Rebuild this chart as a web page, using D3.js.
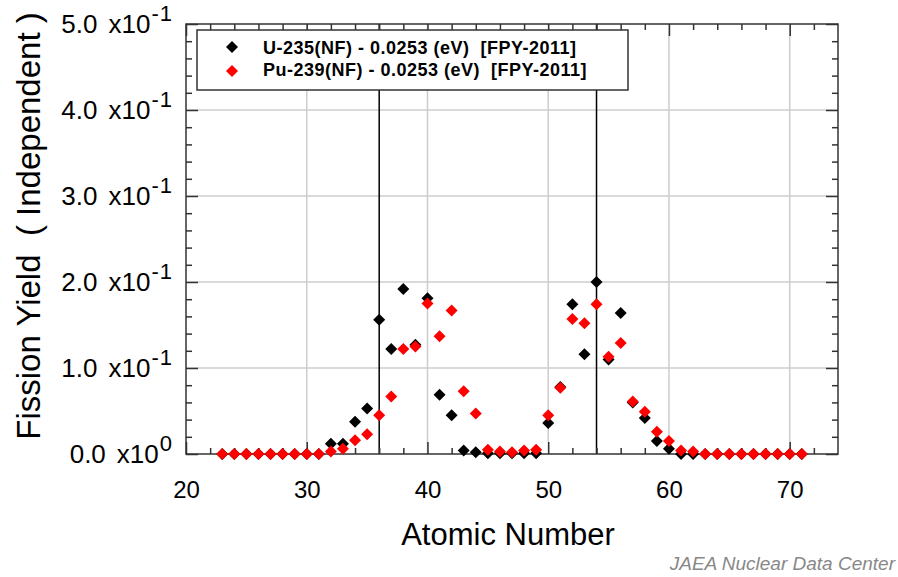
<!doctype html>
<html>
<head>
	<meta charset="utf-8">
	<title>fission yield</title>
	<script src="https://cdn.jsdelivr.net/npm/d3@7"></script>
	<style>
		body { margin: 0; background: #fff; }
		text { font-family: "Liberation Sans", Arial, sans-serif; }
		.axis path { display: none; }
		.axis line { stroke: #333; stroke-width: 1.5; }
	</style>
</head>
<body>
<script>
	// atomic number, one entry per element
	var atomic_number = d3.range(23, 72)
	// U-235 thermal, independent yield by element
	var u235 = [0, 0, 0, 0, 0, 0, 0, 0, 0,
		0.012, 0.012, 0.0375, 0.053, 0.156, 0.122, 0.192, 0.127, 0.181, 0.069, 0.045,
		0.004, 0.002, 0.001, 0.001, 0.001, 0.001, 0.001, 0.036, 0.078, 0.174, 0.116,
		0.200, 0.110, 0.164, 0.060, 0.042, 0.015, 0.006, 0, 0,
		0, 0, 0, 0, 0, 0, 0, 0, 0]
	// Pu-239 thermal, independent yield by element
	var pu239 = [0, 0, 0, 0, 0, 0, 0, 0, 0,
		0.003, 0.006, 0.016, 0.023, 0.045, 0.067, 0.122, 0.125, 0.175, 0.137, 0.167,
		0.073, 0.047, 0.005, 0.003, 0.002, 0.004, 0.005, 0.045, 0.077, 0.157, 0.152,
		0.174, 0.113, 0.129, 0.061, 0.049, 0.026, 0.015, 0.004, 0.003,
		0, 0, 0, 0, 0, 0, 0, 0, 0]
	var x_ticks = [20, 30, 40, 50, 60, 70]
	var y_ticks = [0, 0.1, 0.2, 0.3, 0.4, 0.5]
	var y_mantissa = ["0.0", "1.0", "2.0", "3.0", "4.0", "5.0"]
	var y_exponent = ["0", "-1", "-1", "-1", "-1", "-1"]
	var magic_lines = [36, 54]
	var series_names = ["U-235(NF) - 0.0253 (eV)  [FPY-2011]", "Pu-239(NF) - 0.0253 (eV)  [FPY-2011]"]
	var series_colors = ["#000000", "#ff0000"]

	var width = 898
	var height = 577
	// plot frame (window.top is reserved, so p_ prefix)
	var p_left = 186, p_right = 838, p_top = 24, p_bottom = 454

	var svg = d3.select("body")
				.append("svg")
				.attr("width", width)
				.attr("height", height)

	var x = d3.scaleLinear().domain([20, 74]).range([p_left, p_right])
	var y = d3.scaleLinear().domain([0, 0.5]).range([p_bottom, p_top])

	// grid
	svg.append("g")
		.selectAll("line")
		.data(x_ticks.slice(1))
		.enter()
		.append("line")
		.attr("x1", function(d) { return x(d) })
		.attr("x2", function(d) { return x(d) })
		.attr("y1", p_top)
		.attr("y2", p_bottom)
		.attr("stroke", "#cccccc")
		.attr("stroke-width", 1.5)
	svg.append("g")
		.selectAll("line")
		.data(y_ticks.slice(1, -1))
		.enter()
		.append("line")
		.attr("x1", p_left)
		.attr("x2", p_right)
		.attr("y1", function(d) { return y(d) })
		.attr("y2", function(d) { return y(d) })
		.attr("stroke", "#cccccc")
		.attr("stroke-width", 1.5)

	// vertical lines at Z = 36 and 54
	svg.append("g")
		.selectAll("line")
		.data(magic_lines)
		.enter()
		.append("line")
		.attr("x1", function(d) { return x(d) })
		.attr("x2", function(d) { return x(d) })
		.attr("y1", p_top)
		.attr("y2", p_bottom)
		.attr("stroke", "#000")
		.attr("stroke-width", 1.5)

	// ticks, pointing inward on all four sides
	var x_minor = d3.range(22, 74, 2).filter(function(d) { return d % 10 != 0 })
	var y_minor = d3.range(0.02, 0.5, 0.02).filter(function(d) { return Math.abs(d * 10 - Math.round(d * 10)) > 0.01 })

	svg.append("g").attr("class", "axis").attr("transform", "translate(0," + p_bottom + ")")
		.call(d3.axisBottom(x).tickValues(x_ticks).tickSize(-12).tickPadding(27).tickFormat(d3.format("d")))
	svg.append("g").attr("class", "axis").attr("transform", "translate(0," + p_bottom + ")")
		.call(d3.axisBottom(x).tickValues(x_minor).tickSize(-6).tickFormat(""))
	svg.append("g").attr("class", "axis").attr("transform", "translate(0," + p_top + ")")
		.call(d3.axisTop(x).tickValues(x_ticks).tickSize(-12).tickFormat(""))
	svg.append("g").attr("class", "axis").attr("transform", "translate(0," + p_top + ")")
		.call(d3.axisTop(x).tickValues(x_minor).tickSize(-6).tickFormat(""))
	var yaxis = svg.append("g").attr("class", "axis").attr("transform", "translate(" + p_left + ",0)")
		.call(d3.axisLeft(y).tickValues(y_ticks).tickSize(-12).tickPadding(13).tickFormat(""))
	svg.append("g").attr("class", "axis").attr("transform", "translate(" + p_left + ",0)")
		.call(d3.axisLeft(y).tickValues(y_minor).tickSize(-6).tickFormat(""))
	svg.append("g").attr("class", "axis").attr("transform", "translate(" + p_right + ",0)")
		.call(d3.axisRight(y).tickValues(y_ticks).tickSize(-12).tickFormat(""))
	svg.append("g").attr("class", "axis").attr("transform", "translate(" + p_right + ",0)")
		.call(d3.axisRight(y).tickValues(y_minor).tickSize(-6).tickFormat(""))

	svg.selectAll(".axis text")
		.attr("fill", "#000")
		.attr("font-size", 24)

	// y labels like 5.0 x10^-1
	var ylab = yaxis.selectAll(".tick text")
		.attr("font-size", 26)
		.attr("dy", "0.34em")
	ylab.each(function(d, i) {
		var t = d3.select(this)
		t.append("tspan").text(y_mantissa[i])
		t.append("tspan").attr("dx", 11).text("x10")
		t.append("tspan").attr("font-size", 22).attr("letter-spacing", 1).attr("dx", 1).attr("dy", "-0.55em").text(y_exponent[i])
	})

	// frame
	svg.append("rect")
		.attr("x", p_left)
		.attr("y", p_top)
		.attr("width", p_right - p_left)
		.attr("height", p_bottom - p_top)
		.attr("fill", "none")
		.attr("stroke", "#333")
		.attr("stroke-width", 1.5)

	// legend
	svg.append("rect")
		.attr("x", 197)
		.attr("y", 30)
		.attr("width", 431)
		.attr("height", 60)
		.attr("fill", "#fff")
		.attr("stroke", "#333")
		.attr("stroke-width", 1.5)

	var diamond = d3.symbol().type(d3.symbolSquare).size(72)

	var legend = svg.selectAll(".legend")
		.data(series_names)
		.enter()
		.append("g")
		.attr("class", "legend")
	legend.append("path")
		.attr("d", diamond)
		.attr("transform", function(d, i) { return "translate(232," + (47 + i * 24) + ") rotate(45)" })
		.attr("fill", function(d, i) { return series_colors[i] })
	legend.append("text")
		.attr("x", 263)
		.attr("y", function(d, i) { return 53.5 + i * 22 })
		.attr("font-size", 18)
		.attr("font-weight", "bold")
		.attr("letter-spacing", 0.5)
		.style("white-space", "pre")
		.text(function(d) { return d })

	// points
	var series = [u235, pu239]
	series.forEach(function(vals, s) {
		svg.append("g")
			.selectAll("path")
			.data(vals)
			.enter()
			.append("path")
			.attr("d", diamond)
			.attr("transform", function(d, i) { return "translate(" + x(atomic_number[i]) + "," + y(d) + ") rotate(45)" })
			.attr("fill", series_colors[s])
	})

	// axis titles
	svg.append("text")
		.attr("x", 508)
		.attr("y", 545)
		.attr("text-anchor", "middle")
		.attr("font-size", 31)
		.text("Atomic Number")
	svg.append("text")
		.attr("transform", "translate(40,226) rotate(-90)")
		.attr("text-anchor", "middle")
		.attr("font-size", 33)
		.style("white-space", "pre")
		.text("Fission Yield  ( Independent )")

	svg.append("text")
		.attr("x", 895)
		.attr("y", 570)
		.attr("text-anchor", "end")
		.attr("font-size", 19)
		.attr("font-style", "italic")
		.attr("fill", "#888")
		.text("JAEA Nuclear Data Center")
</script>
</body>
</html>
